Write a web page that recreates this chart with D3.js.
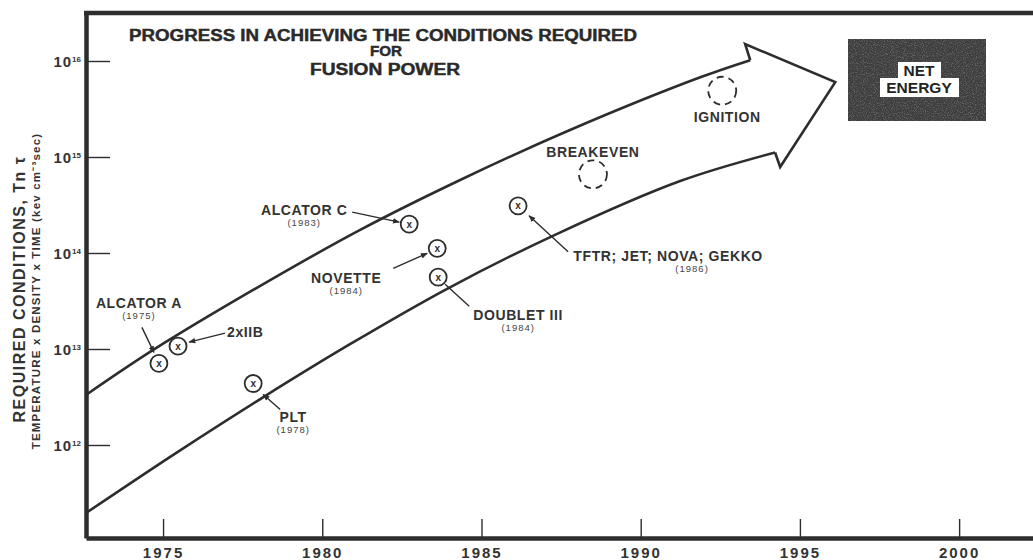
<!DOCTYPE html>
<html>
<head>
<meta charset="utf-8">
<script src="https://cdn.jsdelivr.net/npm/d3@7"></script>
<style>
  html, body { margin: 0; padding: 0; background: #ffffff; }
  svg { display: block; font-family: "Liberation Sans", Arial, sans-serif; }
</style>
</head>
<body>
<svg id="chart" width="1033" height="560"></svg>
<script>
// ---------------- DATA ----------------
const yearTicks = [1975, 1980, 1985, 1990, 1995, 2000];
const powerTicks = [12, 13, 14, 15, 16];

// Upper edge of the progress arrow (year, Tn tau)
const upperYears  = [1972.58, 1974.69, 1977.83, 1981.19, 1984.33, 1987.78, 1991.87, 1993.44];
const upperValues = [3.32e12, 9.77e12, 4.12e13, 1.74e14, 5.76e14, 1.91e15, 6.76e15, 1.02e16];
// Lower edge of the progress arrow
const lowerYears  = [1972.58, 1975.38, 1978.14, 1980.87, 1983.95, 1987.31, 1991.24, 1994.22];
const lowerValues = [1.957e11, 8.14e11, 3.14e12, 1.122e13, 4.29e13, 1.547e14, 5.62e14, 1.114e15];
// Arrow head outline: upper end, top barb, tip, lower barb, lower end
const headYears  = [1993.44, 1993.28, 1996.11, 1994.38, 1994.22];
const headValues = [1.02e16, 1.50e16, 6.03e15, 7.87e14, 1.114e15];

// Achieved experiments
const deviceNames  = ["ALCATOR A", "2xIIB", "PLT", "ALCATOR C", "NOVETTE", "DOUBLET III", "TFTR; JET; NOVA; GEKKO"];
const deviceDates  = ["(1975)", "", "(1978)", "(1983)", "(1984)", "(1984)", "(1986)"];
const deviceYears  = [1974.87, 1975.47, 1977.83, 1982.73, 1983.61, 1983.64, 1986.15];
const deviceValues = [7.08e12, 1.07e13, 4.37e12, 2.0e14, 1.12e14, 5.6e13, 3.1e14];

// Goals (dashed circles)
const goalNames  = ["BREAKEVEN", "IGNITION"];
const goalYears  = [1988.50, 1992.56];
const goalValues = [6.6e14, 4.9e15];

// ---------------- LAYOUT ----------------
const ink = "#2d2d2d";
const svg = d3.select("#chart");
const x = d3.scaleLinear().domain([1972.58, 2002.32]).range([86, 1033]);
const y = d3.scaleLog().domain([Math.pow(10, 11.03125), Math.pow(10, 16.5)]).range([538, 13]);

// label placement, pixel offsets from each marker
const deviceLabelLayout = [
  { dx: -20, dy: -55, anchor: "middle", cdx: 0,  arrow: [-17, -36, -5, -11], head: true },
  { dx: 49,  dy: -9,  anchor: "start",  cdx: 0,  arrow: [47, -13, 11, -4],   head: true },
  { dx: 40,  dy: 38,  anchor: "middle", cdx: 0,  arrow: [27, 26, 10, 11],    head: true },
  { dx: -105,dy: -9,  anchor: "middle", cdx: 0,  arrow: [-57, -12, -10, -2], head: true },
  { dx: -91, dy: 35,  anchor: "middle", cdx: 0,  arrow: [-44, 20, -10, 5],   head: true },
  { dx: 80,  dy: 43,  anchor: "middle", cdx: 0,  arrow: [31, 29, 7, 7],      head: false },
  { dx: 150, dy: 55,  anchor: "middle", cdx: 24, arrow: [50, 46, 11, 10],    head: true }
];
const goalLabelLayout = [ { dx: 0, dy: -17 }, { dx: 5, dy: 31 } ];

// defs
const defs = svg.append("defs");
defs.append("marker")
  .attr("id", "ah").attr("viewBox", "0 0 10 10").attr("refX", 9).attr("refY", 5)
  .attr("markerWidth", 7).attr("markerHeight", 7).attr("markerUnits", "userSpaceOnUse")
  .attr("orient", "auto")
  .append("path").attr("d", "M0,1 L10,5 L0,9 Z").attr("fill", ink);
const f = defs.append("filter").attr("id", "noise").attr("x", 0).attr("y", 0).attr("width", 1).attr("height", 1);
f.append("feTurbulence").attr("type", "fractalNoise").attr("baseFrequency", 0.9).attr("numOctaves", 2).attr("seed", 3);
f.append("feColorMatrix").attr("type", "matrix")
  .attr("values", "0 0 0 0 0.75  0 0 0 0 0.75  0 0 0 0 0.75  0 0 0 1.6 -0.75");
f.append("feComposite").attr("in2", "SourceGraphic").attr("operator", "in");

svg.append("rect").attr("width", 1033).attr("height", 560).attr("fill", "#ffffff");

// ---------------- AXES ----------------
const xAxis = svg.append("g").attr("transform", "translate(0,538)")
  .call(d3.axisBottom(x).tickValues(yearTicks).tickFormat(d3.format("d"))
    .tickSizeInner(-19).tickSizeOuter(0).tickPadding(9));
xAxis.select(".domain").attr("stroke", ink).attr("stroke-width", 4.5);
xAxis.selectAll(".tick line").attr("stroke", ink).attr("stroke-width", 1.4);
xAxis.selectAll(".tick text").attr("fill", "#333").attr("font-size", 15).attr("font-weight", "bold")
  .attr("letter-spacing", 2).attr("font-family", "Liberation Sans, Arial, sans-serif");

const yAxis = svg.append("g").attr("transform", "translate(86,0)")
  .call(d3.axisLeft(y).tickValues(powerTicks.map(p => Math.pow(10, p))).tickFormat("")
    .tickSizeInner(-24).tickSizeOuter(0));
yAxis.select(".domain").attr("stroke", ink).attr("stroke-width", 4.5);
yAxis.selectAll(".tick line").attr("stroke", ink).attr("stroke-width", 1.4);

// frame extension (top border)
svg.append("line").attr("x1", x.range()[0] - 2).attr("x2", x.range()[1])
  .attr("y1", y.range()[1]).attr("y2", y.range()[1])
  .attr("stroke", ink).attr("stroke-width", 4.5);

// y tick labels 10^n
const yl = svg.append("g").selectAll("text").data(powerTicks).join("text")
  .attr("x", 81).attr("y", d => y(Math.pow(10, d)) + 6)
  .attr("text-anchor", "end").attr("fill", "#333").attr("font-weight", "bold");
yl.append("tspan").attr("font-size", 15).attr("letter-spacing", 1).text("10");
yl.append("tspan").attr("font-size", 8).attr("dy", -5).text(d => d);

// y axis titles
svg.append("text").attr("transform", "translate(25,289) rotate(-90)")
  .attr("text-anchor", "middle").attr("font-size", 16).attr("font-weight", "bold").attr("fill", "#333")
  .attr("letter-spacing", 1.5)
  .text("REQUIRED CONDITIONS, Tn τ");
svg.append("text").attr("transform", "translate(40,291) rotate(-90)")
  .attr("text-anchor", "middle").attr("font-size", 11.5).attr("font-weight", "bold").attr("fill", "#333")
  .attr("letter-spacing", 1.2)
  .text("TEMPERATURE x DENSITY x TIME (kev cm⁻³sec)");

// ---------------- TITLE ----------------
const title = svg.append("g").attr("fill", "#2a2a2a").attr("stroke", "#2a2a2a").attr("stroke-width", 0.45)
  .attr("font-weight", "bold").attr("text-anchor", "middle");
title.append("text").attr("x", 383).attr("y", 41).attr("font-size", 16)
  .attr("textLength", 508).attr("lengthAdjust", "spacingAndGlyphs")
  .text("PROGRESS IN ACHIEVING THE CONDITIONS REQUIRED");
title.append("text").attr("x", 386).attr("y", 56).attr("font-size", 14.5)
  .attr("textLength", 32).attr("lengthAdjust", "spacingAndGlyphs").text("FOR");
title.append("text").attr("x", 385).attr("y", 75).attr("font-size", 16)
  .attr("textLength", 150).attr("lengthAdjust", "spacingAndGlyphs").text("FUSION POWER");

// ---------------- PROGRESS ARROW ----------------
const curve = d3.line().x(d => x(d[0])).y(d => y(d[1])).curve(d3.curveCatmullRom.alpha(0.5));
const poly = d3.line().x(d => x(d[0])).y(d => y(d[1]));
svg.append("path").attr("d", curve(d3.zip(upperYears, upperValues)))
  .attr("fill", "none").attr("stroke", ink).attr("stroke-width", 2.6);
svg.append("path").attr("d", curve(d3.zip(lowerYears, lowerValues)))
  .attr("fill", "none").attr("stroke", ink).attr("stroke-width", 2.6);
svg.append("path").attr("d", poly(d3.zip(headYears, headValues)))
  .attr("fill", "none").attr("stroke", ink).attr("stroke-width", 2.6).attr("stroke-linejoin", "miter");

// ---------------- DEVICES ----------------
const devices = deviceNames.map((n, i) => ({
  name: n, date: deviceDates[i], px: x(deviceYears[i]), py: y(deviceValues[i]), L: deviceLabelLayout[i]
}));
const dg = svg.append("g");
devices.forEach(d => {
  const a = d.L.arrow;
  dg.append("line").attr("x1", d.px + a[0]).attr("y1", d.py + a[1])
    .attr("x2", d.px + a[2]).attr("y2", d.py + a[3])
    .attr("stroke", ink).attr("stroke-width", 1.4)
    .attr("marker-end", d.L.head ? "url(#ah)" : null);
  dg.append("text").attr("x", d.px + d.L.dx).attr("y", d.py + d.L.dy)
    .attr("text-anchor", d.L.anchor).attr("font-size", 14).attr("font-weight", "bold").attr("fill", "#333")
    .attr("letter-spacing", 0.6)
    .text(d.name);
  if (d.date) {
    dg.append("text").attr("x", d.px + d.L.dx + d.L.cdx).attr("y", d.py + d.L.dy + 11)
      .attr("text-anchor", "middle").attr("font-size", 9.5).attr("fill", "#444").attr("letter-spacing", 1)
      .text(d.date);
  }
});
const mk = svg.append("g").selectAll("g").data(devices).join("g")
  .attr("transform", d => `translate(${d.px},${d.py})`);
mk.append("circle").attr("r", 8.5).attr("fill", "#fff").attr("stroke", ink).attr("stroke-width", 1.8);
mk.append("text").attr("y", 3.5).attr("text-anchor", "middle").attr("font-size", 10)
  .attr("font-weight", "bold").attr("fill", ink).text("x");

// ---------------- GOALS ----------------
const goals = goalNames.map((n, i) => ({ name: n, px: x(goalYears[i]), py: y(goalValues[i]), L: goalLabelLayout[i] }));
const gg = svg.append("g");
goals.forEach(g => {
  gg.append("circle").attr("cx", g.px).attr("cy", g.py).attr("r", 14)
    .attr("fill", "none").attr("stroke", ink).attr("stroke-width", 1.8).attr("stroke-dasharray", "7,5");
  gg.append("text").attr("x", g.px + g.L.dx).attr("y", g.py + g.L.dy)
    .attr("text-anchor", "middle").attr("font-size", 14).attr("font-weight", "bold").attr("fill", "#333")
    .attr("letter-spacing", 0.6).text(g.name);
});

// ---------------- NET ENERGY BOX ----------------
const nb = svg.append("g");
nb.append("rect").attr("x", 848).attr("y", 39).attr("width", 138).attr("height", 82).attr("fill", "#3e3e3e");
nb.append("rect").attr("x", 848).attr("y", 39).attr("width", 138).attr("height", 82).attr("fill", "#999").attr("filter", "url(#noise)").attr("opacity", 0.5);
nb.append("path").attr("d", "M898,62 H941 V78 H959 V97 H880 V78 H898 Z").attr("fill", "#ffffff");
nb.append("text").attr("x", 919).attr("y", 76).attr("text-anchor", "middle").attr("font-size", 15.5)
  .attr("font-weight", "bold").attr("fill", "#222").text("NET");
nb.append("text").attr("x", 919).attr("y", 93).attr("text-anchor", "middle").attr("font-size", 15.5)
  .attr("font-weight", "bold").attr("fill", "#222").text("ENERGY");
</script>
</body>
</html>
